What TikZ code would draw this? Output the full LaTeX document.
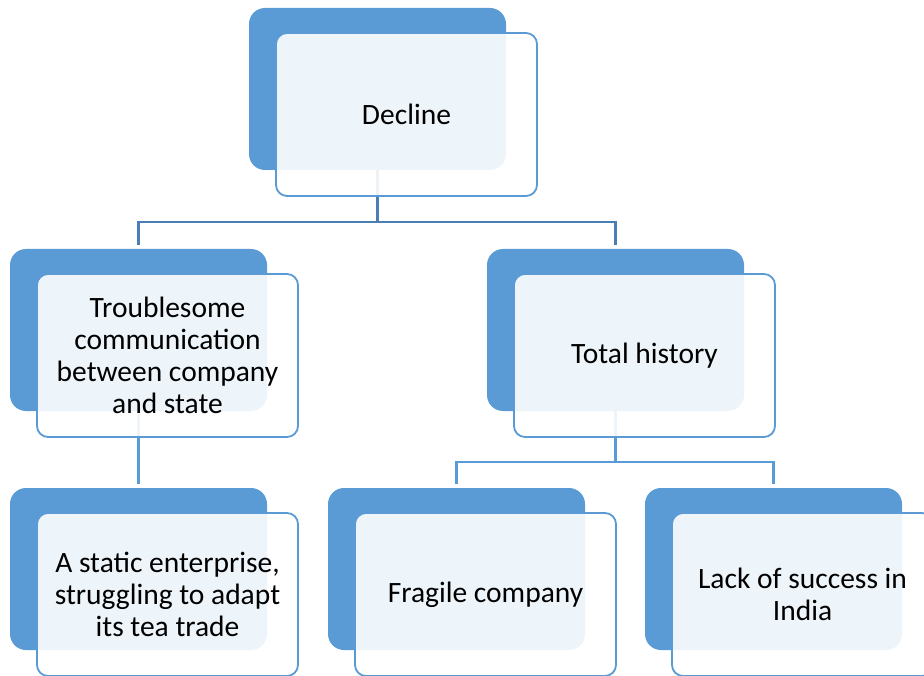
\documentclass[tikz,border=0pt]{standalone}
\usepackage{fontspec}
\setmainfont{Carlito}
\definecolor{accent}{HTML}{5B9BD5}
\definecolor{linkdark}{HTML}{4A7EB4}
\definecolor{linklight}{HTML}{5B9BD5}
\begin{document}
\begin{tikzpicture}[x=1pt,y=-1pt,
  backbox/.style={draw=none, fill=accent, rounded corners=16pt,
    minimum width=257pt, minimum height=162pt, inner sep=0pt},
  frontbox/.style={draw=accent, line width=1.8pt, fill=white, fill opacity=0.9,
    text opacity=1, rounded corners=11pt, minimum width=261pt,
    minimum height=163pt, inner sep=0pt, align=center,
    font=\fontsize{29.5}{32}\selectfont},
  link/.style={line width=2.2pt, shorten >=3.5pt},
  linkone/.style={link, draw=linkdark},
  linktwo/.style={link, draw=linklight}]
\useasboundingbox (0,0) rectangle (924,676);
\clip (0,0) rectangle (924,676);

% solid back cards
\node[backbox] (topb) at (377.5,89) {};
\node[backbox] (lmb)  at (138.5,330) {};
\node[backbox] (rmb)  at (615.5,330) {};
\node[backbox] (b1b)  at (138.5,569) {};
\node[backbox] (b2b)  at (456.5,569) {};
\node[backbox] (b3b)  at (773.5,569) {};

% hierarchy connectors
\coordinate (j1) at (topb.south |- 0,222);
\coordinate (j2) at (rmb.south |- 0,462);
\draw[linkone] (topb.south) -- (j1) -| (lmb.north);
\draw[linkone] (j1) -| (rmb.north);
\draw[linktwo] (lmb.south) -- (b1b.north);
\draw[linktwo] (rmb.south) -- (j2) -| (b2b.north);
\draw[linktwo] (j2) -| (b3b.north);

% translucent front cards with labels
\node[frontbox] (top) at (406.5,114.5) {Decline};
\node[frontbox] (lm)  at (167.5,355.5) {Troublesome\\communication\\between company\\and state};
\node[frontbox] (rm)  at (644.5,355.5) {Total history};
\node[frontbox] (b1)  at (167.5,594.5) {A static enterprise,\\struggling to adapt\\its tea trade};
\node[frontbox] (b2)  at (485.5,594.5) {\raisebox{-3pt}{Fragile company}};
\node[frontbox] (b3)  at (802.5,594.5) {Lack of success in\\India};
\end{tikzpicture}
\end{document}
